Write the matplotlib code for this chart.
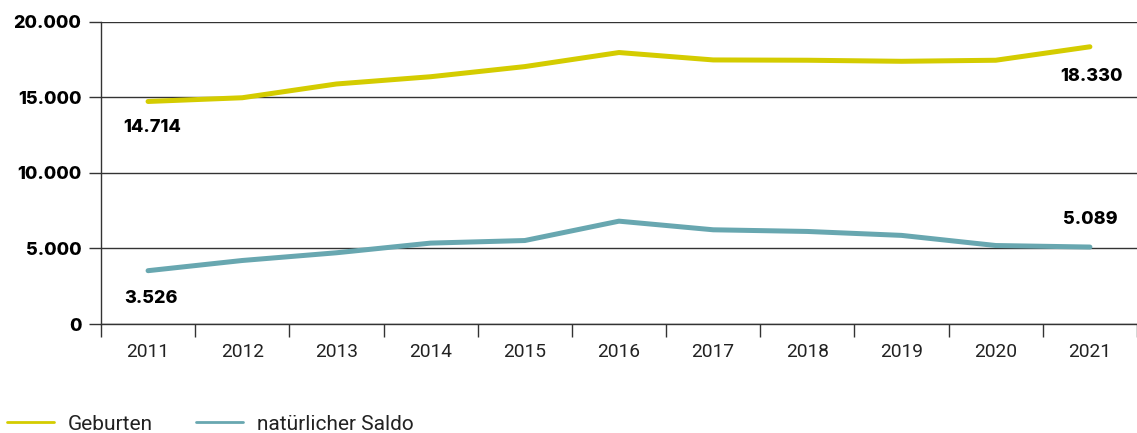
import matplotlib
matplotlib.use("Agg")
import matplotlib.pyplot as plt
from matplotlib.ticker import FuncFormatter, MultipleLocator

plt.rcParams['font.family'] = ['Roboto', 'DejaVu Sans']

years = ["2011", "2012", "2013", "2014", "2015", "2016", "2017", "2018", "2019", "2020", "2021"]
geburten = [14714, 14960, 15870, 16350, 17020, 17950, 17460, 17440, 17370, 17440, 18330]
saldo = [3526, 4200, 4710, 5350, 5520, 6800, 6230, 6120, 5860, 5190, 5089]

yellow = "#d4cc00"
teal = "#68a7b0"
bold_font = ['Inter', 'DejaVu Sans']

def fmt(v, pos=None):
    return f"{int(v):,}".replace(",", ".")

fig = plt.figure(figsize=(11.37, 4.33), dpi=100)
ax = fig.add_axes([0.0888, 0.2517, 0.9112, 0.6986])

x = list(range(len(years)))
ax.plot(x, geburten, color=yellow, lw=3.6, solid_capstyle="round", label="Geburten", zorder=3)
ax.plot(x, saldo, color=teal, lw=3.6, solid_capstyle="round", label="natürlicher Saldo", zorder=3)

ax.set_xlim(-0.5, len(years) - 0.5)
ax.set_ylim(0, 20000)
ax.yaxis.set_major_locator(MultipleLocator(5000))
ax.yaxis.set_major_formatter(FuncFormatter(fmt))
ax.grid(axis="y", color="#333333", lw=1.0, zorder=1)

ax.set_xticks(x)
ax.set_xticklabels(years)
ax.set_xticks([i - 0.5 for i in range(len(years) + 1)], minor=True)
ax.tick_params(axis="x", which="major", length=0, pad=14, labelsize=13.8, labelcolor="#222222")
ax.tick_params(axis="x", which="minor", length=9, width=1.0, color="#333333")
ax.tick_params(axis="y", length=9, width=1.0, color="#333333", pad=5, labelsize=13)
for lab in ax.get_yticklabels():
    lab.set_fontweight("heavy")
    lab.set_family(bold_font)

for s in ["top", "right"]:
    ax.spines[s].set_visible(False)
for s in ["left", "bottom"]:
    ax.spines[s].set_color("#333333")
    ax.spines[s].set_linewidth(1.0)

lab_kw = dict(textcoords="offset pixels", ha="center", va="center",
              fontsize=13, fontweight="heavy", family=bold_font)
ax.annotate(fmt(geburten[0]), (x[0], geburten[0]), xytext=(4, -26), **lab_kw)
ax.annotate(fmt(saldo[0]), (x[0], saldo[0]), xytext=(3, -28), **lab_kw)
ax.annotate(fmt(geburten[-1]), (x[-1], geburten[-1]), xytext=(2, -30), **lab_kw)
ax.annotate(fmt(saldo[-1]), (x[-1], saldo[-1]), xytext=(0, 28), **lab_kw)

leg = fig.legend(loc="center left", bbox_to_anchor=(7 / 1137, 1 - 424 / 433), ncol=2,
                 frameon=False, prop={"size": 15}, handlelength=2.26,
                 handletextpad=0.67, columnspacing=2.07, borderpad=0, borderaxespad=0)
for h in leg.get_lines():
    h.set_linewidth(2.0)
for t in leg.get_texts():
    t.set_color("#222222")

fig.savefig("out.png", dpi=100)
